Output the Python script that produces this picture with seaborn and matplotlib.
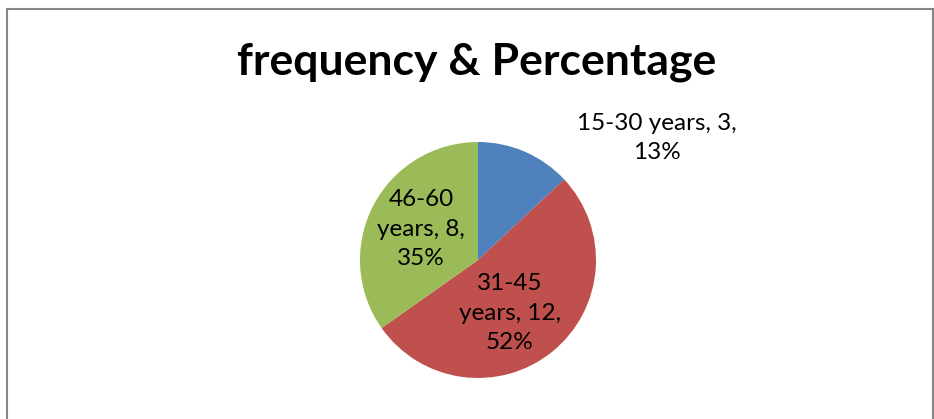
import matplotlib
matplotlib.use("Agg")
import matplotlib.pyplot as plt
import seaborn as sns
from matplotlib.patches import Rectangle

# Age groups, counts and shares
categories = ["15-30 years", "31-45 years", "46-60 years"]
counts = [3, 12, 8]
percents = [13, 52, 35]
colors = ["#4F81BD", "#C0504D", "#9BBB59"]
title = "frequency & Percentage"

sns.set_style("white")
plt.rcParams["font.family"] = ["Lato", "DejaVu Sans"]

W, H = 934, 419
fig = plt.figure(figsize=(W / 100, H / 100), dpi=100)

# pie centre and radius in pixels
cx, cy, r = 478, 260, 118
ax = fig.add_axes([(cx - r) / W, (H - cy - r) / H, 2 * r / W, 2 * r / H])
ax.pie(counts, colors=colors, startangle=90, counterclock=False, radius=1,
       wedgeprops=dict(linewidth=0))
ax.set_xlim(-1, 1)
ax.set_ylim(-1, 1)
ax.set_aspect("equal")
ax.axis("off")

def px(x, y):
    return ((x - cx) / r, (cy - y) / r)

label_pos = [px(657, 138), px(510, 313), px(421, 229)]
label_fmt = ["{c}, {n},\n{p}%", "{a}\n{b}, {n},\n{p}%", "{a}\n{b}, {n},\n{p}%"]
for cat, n, p, pos, fmt in zip(categories, counts, percents, label_pos, label_fmt):
    a, b = cat.split(" ")
    ax.text(pos[0], pos[1], fmt.format(c=cat, a=a, b=b, n=n, p=p),
            ha="center", va="center", fontsize=17.5, color="#000000",
            linespacing=1.5, clip_on=False)

fig.text(477 / W, 1 - 62 / H, title, ha="center", va="center",
         fontsize=32, fontweight="bold", color="#000000")

# outer chart border
fig.patches.append(Rectangle((7 / W, -0.05), (933 - 7) / W, 1 - 9 / H + 0.05,
                             transform=fig.transFigure, fill=False,
                             edgecolor="#868686", linewidth=1.5))

fig.savefig("out.png", dpi=100)
